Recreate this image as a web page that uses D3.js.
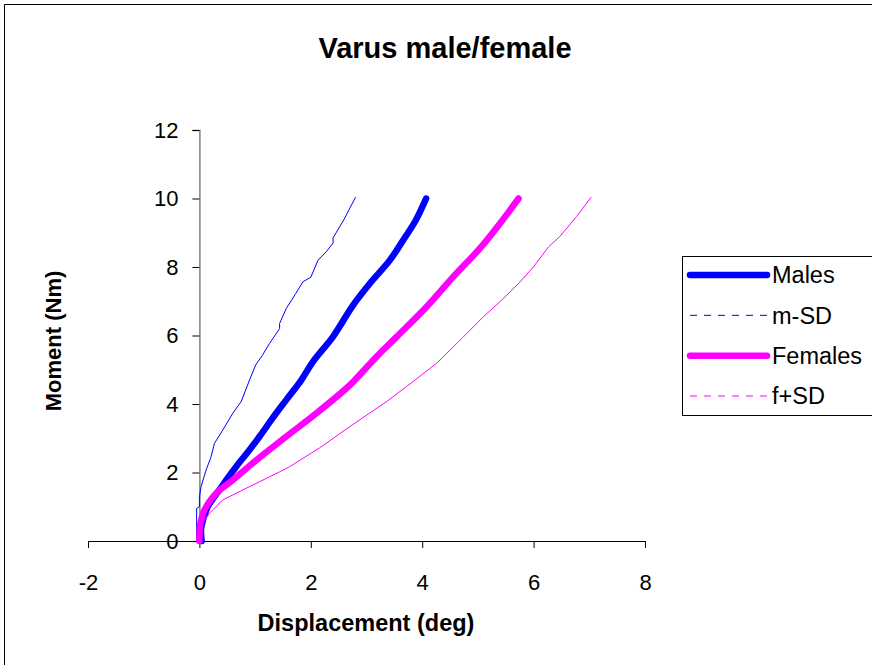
<!DOCTYPE html>
<html>
<head>
<meta charset="utf-8">
<script src="https://cdn.jsdelivr.net/npm/d3@7"></script>
<style>
  html, body { margin: 0; padding: 0; background: #fff; }
  svg { display: block; font-family: "Liberation Sans", Arial, sans-serif; }
</style>
</head>
<body>
<svg id="chart" width="872" height="665"></svg>
<script>
// Moment vs displacement curves, [displacement (deg), moment (Nm)]
const males = [[0.04,0],[0.03,0.35],[0.08,0.7],[0.15,1.0],[0.25,1.25],[0.36,1.49],[0.5,1.82],[0.66,2.17],[0.87,2.6],[1.08,3.05],[1.32,3.6],[1.56,4.12],[1.83,4.70],[2.04,5.24],[2.40,5.97],[2.76,6.89],[3.06,7.52],[3.42,8.2],[3.66,8.79],[3.88,9.35],[4.07,10.0]];
const maleMinusSD = [[-0.05,0],[-0.05,0.95],[0,1.0],[0,1.29],[0.03,1.59],[0.12,2.07],[0.21,2.46],[0.27,2.85],[0.42,3.24],[0.6,3.73],[0.75,4.07],[0.90,4.70],[1.01,5.14],[1.13,5.42],[1.26,5.77],[1.44,6.20],[1.44,6.35],[1.56,6.79],[1.72,7.2],[1.86,7.57],[2.00,7.70],[2.13,8.2],[2.28,8.45],[2.40,8.70],[2.40,8.85],[2.60,9.4],[2.80,10.03]];
const females = [[0,0],[0.01,0.42],[0.09,0.9],[0.3,1.39],[0.6,1.78],[1.02,2.36],[1.56,3.05],[2.10,3.73],[2.64,4.46],[2.82,4.75],[3.18,5.38],[3.54,5.96],[4.08,6.84],[4.56,7.72],[5.04,8.55],[5.40,9.28],[5.73,10.0]];
const femalePlusSD = [[0,0],[0.03,0.25],[0.06,0.52],[0.18,0.81],[0.42,1.2],[0.84,1.54],[1.08,1.73],[1.44,2.02],[1.62,2.17],[2.16,2.72],[2.70,3.34],[3.36,4.07],[3.72,4.51],[4.26,5.19],[4.41,5.43],[4.74,5.96],[5.10,6.55],[5.40,6.99],[5.76,7.57],[6.0,8.01],[6.27,8.59],[6.47,8.89],[6.77,9.47],[7.03,10.03]];

const xTicks = [-2, 0, 2, 4, 6, 8];
const yTicks = [0, 2, 4, 6, 8, 10, 12];
const legendLabels = ["Males", "m-SD", "Females", "f+SD"];

const series = [
  { name: legendLabels[0], data: males,        color: "#0000ff", width: 6.5, dash: null, smooth: true },
  { name: legendLabels[1], data: maleMinusSD,  color: "#0000ff", width: 1,   dash: "7,7", smooth: false },
  { name: legendLabels[2], data: females,      color: "#ff00ff", width: 6.5, dash: null, smooth: true },
  { name: legendLabels[3], data: femalePlusSD, color: "#ff00ff", width: 1,   dash: "7,7", smooth: false }
];

const svg = d3.select("#chart");

// outer chart frame
svg.append("path")
  .attr("d", "M4.5,665V4.5H872")
  .attr("fill", "none").attr("stroke", "#000").attr("stroke-width", 1);

const x = d3.scaleLinear().domain([-2, 8]).range([88, 645]);
const y = d3.scaleLinear().domain([0, 12]).range([541, 130]);
const fmt = d => String(d);

// x axis on y = 0
const gx = svg.append("g")
  .attr("transform", `translate(0,${y(0)})`)
  .call(d3.axisBottom(x).tickValues(xTicks).tickFormat(fmt).tickSizeOuter(0).tickSize(7).tickPadding(26));
gx.select(".domain").attr("stroke", "#000");
gx.selectAll(".tick line").attr("stroke", "#000");
gx.selectAll("text").attr("font-size", 22).attr("fill", "#000")
  .attr("font-family", "Liberation Sans, Arial, sans-serif");

// y axis on x = 0
const gy = svg.append("g")
  .attr("transform", `translate(${x(0)},0)`)
  .call(d3.axisLeft(y).tickValues(yTicks).tickFormat(fmt).tickSizeOuter(0).tickSize(7).tickPadding(14));
gy.select(".domain").attr("stroke", "#808080").attr("stroke-width", 1.5);
gy.selectAll(".tick line").attr("stroke", "#000");
gy.selectAll("text").attr("font-size", 22).attr("fill", "#000")
  .attr("font-family", "Liberation Sans, Arial, sans-serif");

const straight = d3.line().x(d => x(d[0])).y(d => y(d[1]));
const smooth = d3.line().x(d => x(d[0])).y(d => y(d[1])).curve(d3.curveCatmullRom.alpha(0.5));

svg.append("g").selectAll("path")
  .data(series)
  .join("path")
  .attr("d", d => (d.smooth ? smooth : straight)(d.data))
  .attr("fill", "none")
  .attr("stroke", d => d.color)
  .attr("stroke-width", d => d.width)
  .attr("stroke-linejoin", "round")
  .attr("stroke-linecap", "round");

// title and axis titles
svg.append("text")
  .attr("x", 445).attr("y", 58)
  .attr("text-anchor", "middle")
  .attr("font-size", 29).attr("font-weight", "bold")
  .text("Varus male/female");

svg.append("text")
  .attr("x", 366).attr("y", 631)
  .attr("text-anchor", "middle")
  .attr("font-size", 23.5).attr("font-weight", "bold")
  .text("Displacement (deg)");

svg.append("text")
  .attr("transform", "translate(61,341) rotate(-90)")
  .attr("text-anchor", "middle")
  .attr("font-size", 22).attr("font-weight", "bold")
  .text("Moment (Nm)");

// legend
const legend = svg.append("g");
legend.append("rect")
  .attr("x", 682.5).attr("y", 256.5).attr("width", 200).attr("height", 159)
  .attr("fill", "#fff").attr("stroke", "#000").attr("stroke-width", 1);

const rowY = d3.scalePoint().domain(legendLabels).range([275, 396]);
const item = legend.selectAll("g.item")
  .data(series)
  .join("g")
  .attr("class", "item")
  .attr("transform", d => `translate(0,${rowY(d.name)})`);

item.append("line")
  .attr("x1", 690).attr("x2", 767)
  .attr("stroke", d => d.color)
  .attr("stroke-width", d => d.width)
  .attr("stroke-linecap", d => d.dash ? "butt" : "round")
  .attr("stroke-dasharray", d => d.dash);

item.append("text")
  .attr("x", 772).attr("dy", "0.36em")
  .attr("font-size", 23.5)
  .text(d => d.name);
</script>
</body>
</html>
